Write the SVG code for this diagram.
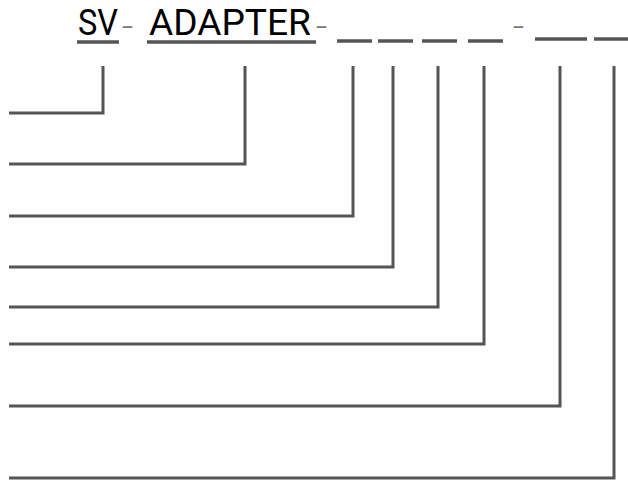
<svg xmlns="http://www.w3.org/2000/svg" width="628" height="480" viewBox="0 0 628 480">
<style>
.t{font-family:Roboto,"Liberation Sans",sans-serif;font-size:36px;fill:#000}
.d{font-family:Roboto,"Liberation Sans",sans-serif;font-size:22px;fill:#777}
.u{stroke:#555;stroke-width:3.5;fill:none}
.c{stroke:#555;stroke-width:3;fill:none}
</style>
<rect width="628" height="480" fill="#fff"/>
<g id="title">
<text class="t" x="78" y="35" textLength="40" lengthAdjust="spacingAndGlyphs">SV</text>
<line class="u" x1="77" y1="42" x2="119" y2="42"/>
<text class="d" x="122" y="34" textLength="11" lengthAdjust="spacingAndGlyphs">-</text>
<text class="t" x="149" y="35" textLength="162" lengthAdjust="spacingAndGlyphs">ADAPTER</text>
<line class="u" x1="147" y1="42" x2="316" y2="42"/>
<text class="d" x="316" y="34" textLength="11" lengthAdjust="spacingAndGlyphs">-</text>
<line class="u" x1="337" y1="41" x2="372" y2="41"/>
<line class="u" x1="378" y1="41" x2="413" y2="41"/>
<line class="u" x1="422" y1="41" x2="457" y2="41"/>
<line class="u" x1="468" y1="41" x2="503" y2="41"/>
<text class="d" x="513" y="34" textLength="11" lengthAdjust="spacingAndGlyphs">-</text>
<line class="u" x1="535" y1="39" x2="587" y2="39"/>
<line class="u" x1="594" y1="39" x2="628" y2="39"/>
</g>
<g id="connectors">
<polyline class="c" points="9,113 103,113 103,66"/>
<polyline class="c" points="9,164 245,164 245,66"/>
<polyline class="c" points="9,216 353,216 353,66"/>
<polyline class="c" points="9,267 393,267 393,66"/>
<polyline class="c" points="9,307 438,307 438,66"/>
<polyline class="c" points="9,344 484,344 484,66"/>
<polyline class="c" points="9,406 560,406 560,66"/>
<polyline class="c" points="9,478 614,478 614,66"/>
</g>
</svg>
